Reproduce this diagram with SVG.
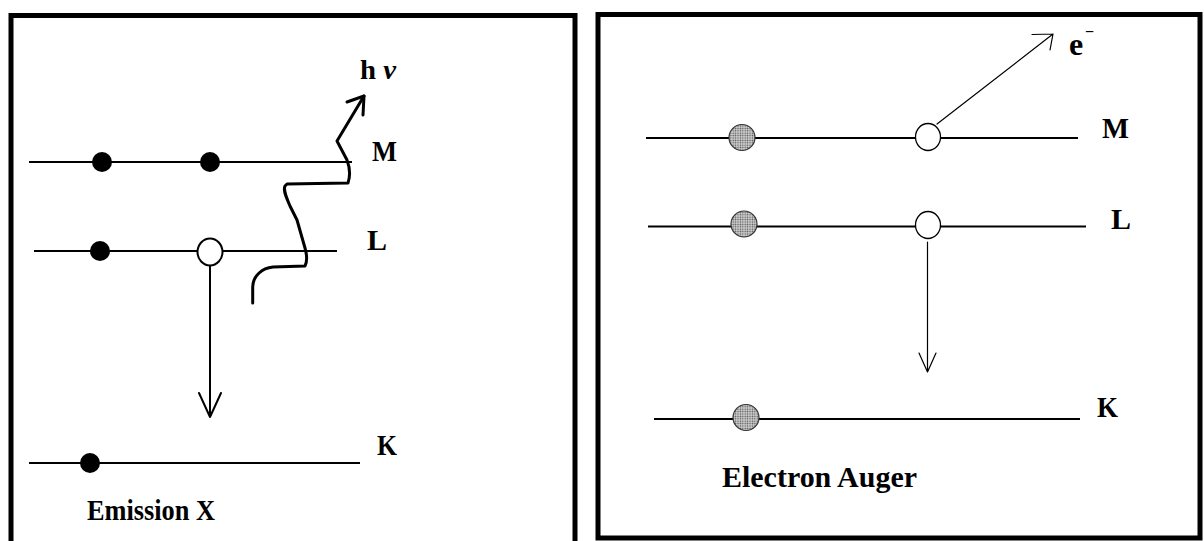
<svg xmlns="http://www.w3.org/2000/svg" width="1204" height="541" viewBox="0 0 1204 541">
<defs>
<pattern id="stipple" width="2.4" height="2.4" patternUnits="userSpaceOnUse">
<rect width="2.4" height="2.4" fill="#d4d4d4"/>
<circle cx="1.2" cy="1.2" r="0.8" fill="#555"/>
</pattern>
<style>
.frame{fill:none;stroke:#000;stroke-width:5}
.lvl{stroke:#000;stroke-width:2.2;fill:none}
.e{fill:#000}
.hole{fill:#fff;stroke:#000;stroke-width:2}
.hole2{fill:#fff;stroke:#000;stroke-width:1.3}
.ge{fill:url(#stipple);stroke:#333;stroke-width:1.2}
.lab{font-family:"Liberation Serif","Times New Roman",serif;font-weight:bold;font-size:30px;fill:#000}
.ar{fill:none;stroke:#000;stroke-width:2;stroke-linecap:round;stroke-linejoin:round}
.ar2{fill:none;stroke:#000;stroke-width:1.2;stroke-linecap:round;stroke-linejoin:round}
.wave{fill:none;stroke:#000;stroke-width:3;stroke-linecap:round;stroke-linejoin:round}
</style>
</defs>
<rect width="1204" height="541" fill="#fff"/>

<g id="panel-emission">
<rect class="frame" x="11" y="15.5" width="564" height="600"/>
<g id="level-M-left"><line class="lvl" x1="29" y1="162" x2="352" y2="162"/><text class="lab" x="372" y="161" textLength="25" lengthAdjust="spacingAndGlyphs">M</text></g>
<g id="level-L-left"><line class="lvl" x1="34" y1="251" x2="337" y2="251"/><text class="lab" x="367" y="250">L</text></g>
<g id="level-K-left"><line class="lvl" x1="29" y1="463" x2="360" y2="463"/><text class="lab" x="377" y="455" textLength="20" lengthAdjust="spacingAndGlyphs">K</text></g>
<g id="e-M1-left"><circle class="e" cx="102" cy="162" r="10"/></g>
<g id="e-M2-left"><circle class="e" cx="210" cy="162" r="10"/></g>
<g id="e-L1-left"><circle class="e" cx="100" cy="251" r="10"/></g>
<g id="hole-L-left"><ellipse class="hole" cx="210" cy="252" rx="12.5" ry="13.5"/></g>
<g id="e-K-left"><circle class="e" cx="90" cy="463" r="10"/></g>
<g id="label-hv"><text class="lab" x="360" y="79" style="font-size:28px" textLength="36" lengthAdjust="spacingAndGlyphs">h <tspan font-style="italic">ν</tspan></text></g>
<g id="title-emission"><text class="lab" x="87" y="520" textLength="128" lengthAdjust="spacingAndGlyphs">Emission X</text></g>
</g>

<g id="panel-auger">
<rect class="frame" x="598" y="14.5" width="602" height="523.5"/>
<g id="level-M-right"><line class="lvl" x1="646" y1="138" x2="1078" y2="138"/><text class="lab" x="1102" y="138" textLength="27" lengthAdjust="spacingAndGlyphs">M</text></g>
<g id="level-L-right"><line class="lvl" x1="648" y1="226.5" x2="1086" y2="226.5"/><text class="lab" x="1111" y="229">L</text></g>
<g id="level-K-right"><line class="lvl" x1="654" y1="419" x2="1080" y2="419"/><text class="lab" x="1097" y="417" textLength="21" lengthAdjust="spacingAndGlyphs">K</text></g>
<g id="e-M-right"><circle class="ge" cx="742" cy="137.5" r="13"/></g>
<g id="e-L-right"><circle class="ge" cx="744" cy="224" r="13"/></g>
<g id="e-K-right"><circle class="ge" cx="746" cy="417.5" r="13"/></g>
<g id="hole-M-right"><ellipse class="hole2" cx="928" cy="137" rx="12.5" ry="13.5"/></g>
<g id="hole-L-right"><ellipse class="hole2" cx="928" cy="225" rx="12.5" ry="13.5"/></g>
<g id="label-e"><text class="lab" x="1069" y="55" style="font-size:32px">e</text><text class="lab" x="1085" y="37" style="font-size:16px">−</text></g>
<g id="title-auger"><text class="lab" x="722" y="487" textLength="195" lengthAdjust="spacingAndGlyphs">Electron Auger</text></g>
</g>

<g id="connectors">
<path class="ar" d="M210 266 L210 417 M199 393 L210 417 L221 393"/>
<path class="wave" d="M252.7 303 L252.7 287 C253 276 262 268 273 267 L305 266 C307 262 307 255 305 248 L297 220 L290 206 C286 197 283 190 285 186 L287 184 L348 183 C350 177 350 168 347 160 L337 141 L364 96"/>
<path class="wave" d="M347 102 L364 96 L363 115"/>
<path class="ar2" d="M937 124 L1053 34 M1032 34.5 L1053 34 L1050 50"/>
<path class="ar2" d="M927.5 242 L927.5 372 M919 353 L927.5 372 L936 353"/>
</g>
</svg>
